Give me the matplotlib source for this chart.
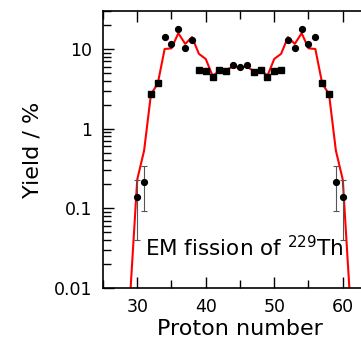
import matplotlib
matplotlib.use('Agg')
import matplotlib.pyplot as plt
from matplotlib.ticker import LogLocator, MultipleLocator, NullFormatter

plt.rcParams['font.family'] = ['DejaVu Sans']
plt.rcParams['mathtext.default'] = 'regular'

# measured yields, squares and circles come from two data sets
z_sq = [32, 33, 39, 40, 41, 42, 43, 47, 48, 49, 50, 51, 57, 58]
y_sq = [2.7, 3.7, 5.45, 5.3, 4.5, 5.5, 5.3, 5.2, 5.5, 4.5, 5.35, 5.45, 3.7, 2.7]

z_ci = [34, 35, 36, 37, 38, 44, 45, 46, 52, 53, 54, 55, 56]
y_ci = [14.3, 11.4, 17.9, 10.4, 13.0, 6.3, 6.0, 6.3, 13.0, 10.4, 17.9, 11.4, 14.3]

# far wings with error bars
z_err = [30, 31, 59, 60]
y_err = [0.138, 0.213, 0.213, 0.138]
y_lo = [0.040, 0.0935, 0.0935, 0.040]
y_hi = [0.23, 0.339, 0.339, 0.23]

# calculated yield curve
z_fit = [29, 30, 31, 32, 33, 34, 35, 36, 37, 38, 39, 40, 41, 42, 43, 44, 45,
         46, 47, 48, 49, 50, 51, 52, 53, 54, 55, 56, 57, 58, 59, 60, 61]
y_fit = [0.009, 0.23, 0.53, 2.7, 3.7, 10.0, 10.2, 15.8, 11.6, 14.1, 8.7, 7.5,
         4.6, 5.3, 5.5, 6.0, 5.8, 6.0, 5.3, 5.5, 4.6, 7.5, 8.7, 14.1, 11.6,
         15.8, 10.2, 10.0, 3.7, 2.7, 0.53, 0.23, 0.009]

fig = plt.figure(figsize=(3.61, 3.48), dpi=100)
ax = fig.add_axes([0.2853, 0.1724, 0.759, 0.796])

ax.plot(z_fit, y_fit, '-', color='#ff0000', lw=1.5, zorder=2)
ax.plot(z_sq, y_sq, 's', color='black', ms=3.8, zorder=3)
ax.plot(z_ci, y_ci, 'o', color='black', ms=4.2, zorder=3)
yerr = [[y - lo for y, lo in zip(y_err, y_lo)], [hi - y for y, hi in zip(y_err, y_hi)]]
ax.errorbar(z_err, y_err, yerr=yerr, fmt='o', color='black', ms=4.2,
            ecolor='#555555', elinewidth=0.8, capsize=2.5, capthick=0.8, zorder=3)

ax.set_yscale('log')
ax.set_xlim(25, 65)
ax.set_ylim(0.01, 30)
ax.set_yticks([0.01, 0.1, 1, 10])
ax.set_yticklabels(['0.01', '0.1', '1', '10'])
ax.yaxis.set_minor_locator(LogLocator(base=10, subs=range(2, 10)))
ax.yaxis.set_minor_formatter(NullFormatter())
ax.xaxis.set_major_locator(MultipleLocator(10))
ax.xaxis.set_minor_locator(MultipleLocator(5))

ax.tick_params(which='both', direction='in', top=True, right=True, width=1.0)
ax.tick_params(which='major', length=8, labelsize=12.5)
ax.tick_params(axis='y', which='major', pad=8)
ax.tick_params(axis='x', which='major', pad=7)
ax.tick_params(which='minor', length=5.5)
for s in ax.spines.values():
    s.set_linewidth(1.2)

ax.set_xlabel('Proton number', fontsize=16, labelpad=2)
ax.set_ylabel('Yield / %', fontsize=16, labelpad=8)

ax.text(31.1, 0.025, 'EM fission of $^{229}$Th', fontsize=15.5,
        ha='left', va='baseline')

fig.savefig('out.png', dpi=100)
